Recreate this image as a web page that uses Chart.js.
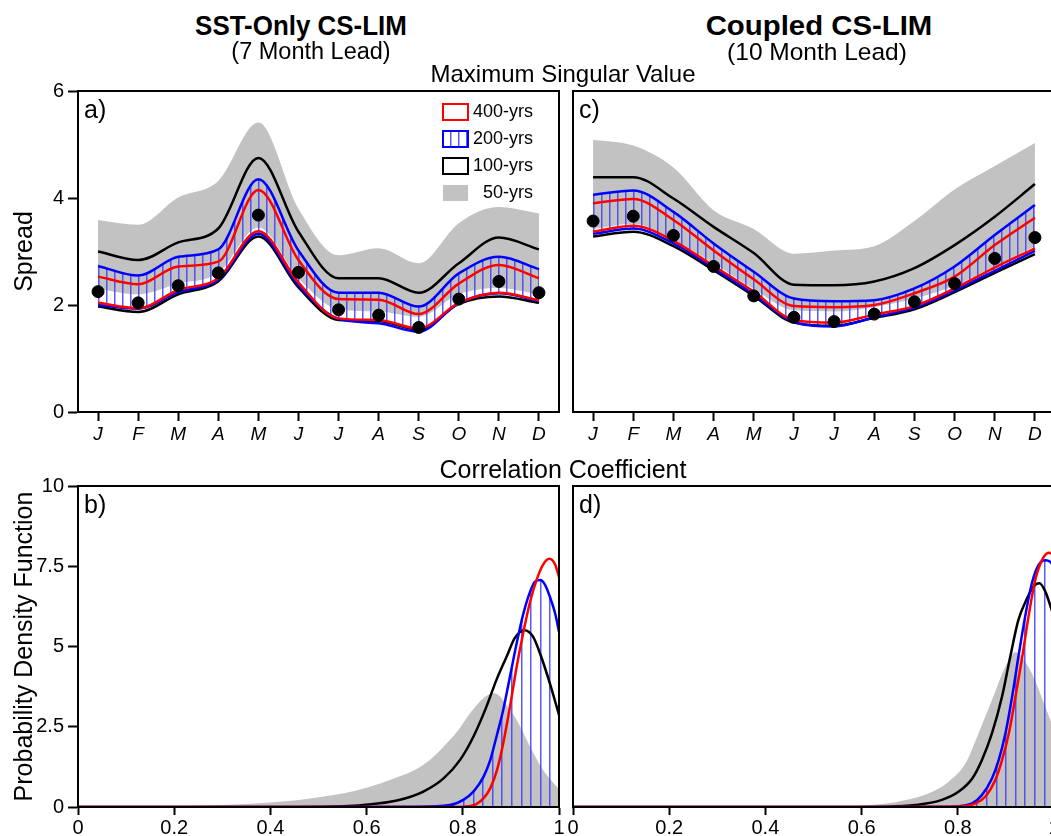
<!DOCTYPE html>
<html><head><meta charset="utf-8">
<script src="https://cdn.jsdelivr.net/npm/chart.js@4.4.1/dist/chart.umd.min.js"></script>
<style>
html,body{margin:0;padding:0;background:#fff;overflow:hidden;}
#fig{position:relative;width:1051px;height:836px;overflow:hidden;font-family:'Liberation Sans',Arial,sans-serif;color:#000;background:#fff;}
canvas{position:absolute;}
.t{position:absolute;width:500px;text-align:center;white-space:nowrap;line-height:1;}
</style></head><body>
<div id="fig">
<canvas id="cA" width="580" height="400" style="left:0px;top:60px"></canvas>
<canvas id="cC" width="560" height="400" style="left:520px;top:60px"></canvas>
<canvas id="cB" width="580" height="400" style="left:0px;top:460px"></canvas>
<canvas id="cD" width="560" height="400" style="left:520px;top:460px"></canvas>
<div class="t" style="left:51px;top:11px;font-size:28.5px;font-weight:bold;transform:scaleX(0.91)">SST-Only CS-LIM</div>
<div class="t" style="left:569px;top:11px;font-size:28.5px;font-weight:bold;transform:scaleX(1.03)">Coupled CS-LIM</div>
<div class="t" style="left:61px;top:40px;font-size:23.5px">(7 Month Lead)</div>
<div class="t" style="left:567px;top:40px;font-size:24.5px">(10 Month Lead)</div>
<div class="t" style="left:313px;top:62px;font-size:24px">Maximum Singular Value</div>
<div class="t" style="left:313px;top:457px;font-size:25px">Correlation Coefficient</div>
</div>
<script>
// ---------- categories ----------
const months = ['J','F','M','A','M','J','J','A','S','O','N','D'];
const legendNames = ['400-yrs','200-yrs','100-yrs','50-yrs'];

// ---------- panel a : SST-Only CS-LIM, spread ----------
const obsA      = [2.25, 2.04, 2.36, 2.60, 3.68, 2.61, 1.91, 1.81, 1.58, 2.11, 2.44, 2.23];
const gry50UpA  = [3.59, 3.50, 4.01, 4.32, 5.41, 3.80, 2.93, 3.06, 2.78, 3.53, 3.83, 3.71];
const gry50LoA  = [2.30, 2.20, 2.40, 2.60, 3.45, 2.50, 1.92, 1.88, 1.78, 2.20, 2.32, 2.20];
const blk100UpA = [3.00, 2.84, 3.17, 3.43, 4.75, 3.37, 2.50, 2.50, 2.23, 2.78, 3.26, 3.04];
const blu200UpA = [2.73, 2.55, 2.90, 3.04, 4.35, 3.02, 2.23, 2.23, 1.97, 2.59, 2.90, 2.67];
const red400UpA = [2.53, 2.39, 2.72, 2.81, 4.15, 2.84, 2.11, 2.10, 1.83, 2.40, 2.75, 2.50];
const red400LoA = [2.04, 1.94, 2.28, 2.50, 3.38, 2.42, 1.75, 1.72, 1.56, 2.04, 2.23, 2.09];
const blu200LoA = [2.00, 1.93, 2.24, 2.47, 3.33, 2.37, 1.74, 1.66, 1.50, 2.03, 2.22, 2.08];
const blk100LoA = [1.97, 1.87, 2.20, 2.44, 3.28, 2.33, 1.72, 1.70, 1.54, 2.02, 2.16, 2.04];

// ---------- panel c : Coupled CS-LIM, spread ----------
const obsC      = [3.57, 3.66, 3.30, 2.72, 2.17, 1.77, 1.69, 1.83, 2.06, 2.40, 2.87, 3.26];
const gry50UpC  = [5.09, 4.98, 4.57, 3.77, 3.42, 2.96, 3.02, 3.10, 3.57, 4.16, 4.60, 5.03];
const gry50LoC  = [3.42, 3.52, 3.22, 2.78, 2.30, 1.90, 1.88, 1.96, 2.12, 2.36, 2.72, 3.10];
const blk100UpC = [4.39, 4.39, 3.99, 3.46, 2.97, 2.38, 2.37, 2.44, 2.69, 3.12, 3.65, 4.26];
const blu200UpC = [4.06, 4.14, 3.74, 3.15, 2.62, 2.12, 2.07, 2.09, 2.31, 2.72, 3.31, 3.87];
const red400UpC = [3.90, 3.98, 3.59, 3.02, 2.48, 1.98, 1.96, 2.00, 2.22, 2.53, 3.12, 3.63];
const red400LoC = [3.37, 3.48, 3.20, 2.73, 2.25, 1.72, 1.67, 1.82, 1.98, 2.31, 2.70, 3.06];
const blu200LoC = [3.33, 3.43, 3.15, 2.69, 2.20, 1.68, 1.60, 1.77, 1.95, 2.27, 2.64, 3.01];
const blk100LoC = [3.28, 3.37, 3.10, 2.65, 2.17, 1.67, 1.61, 1.76, 1.92, 2.24, 2.60, 2.95];

// ---------- panel b : SST-Only CS-LIM, correlation PDF ----------
const red400Bx = [0, 0.5, 0.75, 0.80, 0.815, 0.829, 0.843, 0.857, 0.871, 0.884, 0.898, 0.912, 0.926, 0.940, 0.954, 0.967, 0.980, 0.992, 1.0];
const red400By = [0, 0, 0, 0.01, 0.03, 0.10, 0.27, 0.58, 1.15, 1.98, 3.12, 4.37, 5.45, 6.40, 7.10, 7.55, 7.73, 7.55, 7.17];
const blu200Bx = [0, 0.5, 0.70, 0.773, 0.801, 0.822, 0.843, 0.857, 0.870, 0.884, 0.898, 0.912, 0.926, 0.940, 0.950, 0.961, 0.971, 0.981, 0.992, 1.0];
const blu200By = [0, 0, 0.01, 0.06, 0.22, 0.48, 0.94, 1.46, 2.19, 3.02, 4.06, 5.10, 6.03, 6.71, 7.02, 7.07, 6.92, 6.55, 6.03, 5.46];
const blk100Bx = [0, 0.45, 0.55, 0.593, 0.663, 0.718, 0.760, 0.794, 0.822, 0.849, 0.870, 0.891, 0.908, 0.928, 0.946, 0.963, 0.981, 1.0];
const blk100By = [0, 0, 0.02, 0.06, 0.20, 0.48, 0.89, 1.46, 2.19, 3.12, 3.96, 4.68, 5.26, 5.51, 5.31, 4.68, 3.85, 2.87];
const gry50Bx  = [0, 0.1, 0.2, 0.3, 0.4, 0.45, 0.5, 0.55, 0.6, 0.65, 0.7, 0.73, 0.76, 0.79, 0.815, 0.843, 0.866, 0.898, 0.912, 0.940, 0.967, 1.0];
const gry50By  = [0, 0.005, 0.02, 0.06, 0.14, 0.2, 0.3, 0.42, 0.6, 0.85, 1.15, 1.45, 1.88, 2.38, 2.92, 3.39, 3.54, 3.02, 2.71, 1.88, 1.15, 0.55];

// ---------- panel d : Coupled CS-LIM, correlation PDF ----------
const red400Dx = [0, 0.6, 0.78, 0.82, 0.837, 0.857, 0.878, 0.892, 0.906, 0.920, 0.934, 0.947, 0.961, 0.975, 0.989, 1.0];
const red400Dy = [0, 0, 0.005, 0.04, 0.11, 0.32, 0.84, 1.46, 2.29, 3.44, 4.68, 5.93, 7.07, 7.69, 7.92, 7.85];
const blu200Dx = [0, 0.6, 0.77, 0.81, 0.830, 0.850, 0.871, 0.885, 0.899, 0.913, 0.926, 0.940, 0.954, 0.968, 0.982, 0.992, 1.0];
const blu200Dy = [0, 0, 0.005, 0.04, 0.11, 0.37, 0.89, 1.46, 2.29, 3.44, 4.68, 5.93, 6.97, 7.54, 7.69, 7.64, 7.5];
const blk100Dx = [0, 0.55, 0.65, 0.712, 0.767, 0.802, 0.830, 0.850, 0.871, 0.892, 0.909, 0.926, 0.944, 0.958, 0.970, 0.982, 0.992, 1.0];
const blk100Dy = [0, 0, 0.01, 0.06, 0.22, 0.48, 0.89, 1.46, 2.29, 3.44, 4.68, 5.83, 6.50, 6.88, 6.97, 6.71, 6.29, 5.9];
const gry50Dx  = [0, 0.3, 0.45, 0.54, 0.595, 0.643, 0.692, 0.740, 0.781, 0.816, 0.843, 0.871, 0.899, 0.920, 0.954, 0.982, 1.0];
const gry50Dy  = [0, 0.005, 0.01, 0.02, 0.04, 0.09, 0.22, 0.43, 0.79, 1.36, 2.29, 3.33, 4.37, 4.82, 4.16, 3.12, 2.4];

// ---------- styling ----------
const FONT = "'Liberation Sans', Arial, sans-serif";
const RED = '#ff0000', BLUE = '#0000ff', BLACK = '#000000', GRAY = '#c2c2c2', NONE = 'rgba(0,0,0,0)';
const HATCH = 'rgba(60,60,255,0.85)';
Chart.defaults.font.family = FONT;
Chart.defaults.color = '#000';
Chart.defaults.animation = false;

function makeHatch(ctx, period, positions, dx) {
  const c = document.createElement('canvas');
  c.width = period; c.height = 4;
  const g = c.getContext('2d');
  g.fillStyle = HATCH;
  positions.forEach(p => g.fillRect(p, 0, 1.5, 4));
  const pat = ctx.createPattern(c, 'repeat');
  try { pat.setTransform(new DOMMatrix([1, 0, 0, 1, dx, 0])); } catch (e) {}
  return pat;
}

const framePlugin = {
  id: 'frame',
  afterDraw(chart, args, opts) {
    const {ctx, chartArea: a} = chart;
    ctx.save();
    ctx.strokeStyle = '#000'; ctx.lineWidth = 2;
    ctx.strokeRect(a.left, a.top, a.right - a.left, a.bottom - a.top);
    if (opts.letter) {
      ctx.fillStyle = '#000';
      ctx.font = '25px ' + FONT;
      ctx.textAlign = 'left'; ctx.textBaseline = 'alphabetic';
      ctx.fillText(opts.letter, a.left + 6, a.top + 27);
    }
    ctx.restore();
  }
};

const legendMover = {
  id: 'legendMover',
  afterLayout(chart) {
    const lg = chart.legend;
    if (!lg || !lg.options.display) return;
    const a = chart.chartArea;
    lg.right = a.right - 26;
    lg.left = a.right - 125;
    lg.width = lg.right - lg.left;
    lg.top = a.top + 3;
    lg.bottom = lg.top + 250;
    lg.height = 250;
  }
};

function line(data, color, order, extra) {
  return Object.assign({data, borderColor: color, backgroundColor: color, borderWidth: 2.5,
    pointRadius: 0, fill: false, order, cubicInterpolationMode: 'monotone'}, extra || {});
}
function pts(xs, ys) { return xs.map((x, i) => ({x, y: ys[i]})); }

function yAxis(o, max, step, title) {
  return {
    display: true, min: 0, max: max,
    border: {color: '#000', width: 2},
    grid: {drawOnChartArea: false, drawTicks: o.showY, tickLength: 10, tickWidth: 2, tickColor: '#000'},
    ticks: {display: o.showY, stepSize: step, font: {size: 20}, padding: 4, color: '#000'},
    title: {display: o.showY, text: title, font: {size: 25}, padding: {top: 10, bottom: 0}, color: '#000'},
    afterFit(s) { s.width = o.showY ? 78 : 53; }
  };
}

function topChart(id, d, o) {
  const ctx = document.getElementById(id).getContext('2d');
  const hatch = makeHatch(ctx, 8, [0], o.dx);
  const legendItems = [
    {text: legendNames[0], fillStyle: '#fff', strokeStyle: RED, lineWidth: 2, textAlign: 'right', datasetIndex: 1},
    {text: legendNames[1], fillStyle: hatch, strokeStyle: BLUE, lineWidth: 2, textAlign: 'right', datasetIndex: 3},
    {text: legendNames[2], fillStyle: '#fff', strokeStyle: BLACK, lineWidth: 2, textAlign: 'right', datasetIndex: 5},
    {text: legendNames[3], fillStyle: GRAY, strokeStyle: GRAY, lineWidth: 0, textAlign: 'right', datasetIndex: 7}
  ];
  return new Chart(ctx, {
    type: 'line',
    data: {
      labels: months,
      datasets: [
        {label: 'Observed', data: d.obs, showLine: false, pointRadius: 6, pointHoverRadius: 6,
         pointBackgroundColor: '#000', pointBorderColor: '#000', borderColor: '#000', order: 0},
        line(d.redUp, RED, 1, {label: legendNames[0]}), line(d.redLo, RED, 1),
        line(d.bluUp, BLUE, 2, {label: legendNames[1], fill: 4, backgroundColor: hatch}), line(d.bluLo, BLUE, 2),
        line(d.blkUp, BLACK, 3, {label: legendNames[2]}), line(d.blkLo, BLACK, 3),
        line(d.gryUp, NONE, 5, {label: legendNames[3], fill: 8, backgroundColor: GRAY}), line(d.gryLo, NONE, 5)
      ]
    },
    options: {
      responsive: false, devicePixelRatio: 1, events: [],
      layout: {padding: {left: 0, right: o.padR, top: 31, bottom: 0}},
      plugins: {
        tooltip: {enabled: false},
        filler: {drawTime: 'beforeDatasetsDraw'},
        frame: {letter: o.letter},
        legend: {
          display: o.legend, position: 'chartArea', align: 'start',
          labels: {boxWidth: 25, boxHeight: 16, padding: 9, color: '#000', font: {size: 18},
                   generateLabels: () => legendItems}
        }
      },
      scales: {
        x: {
          type: 'category', offset: true,
          border: {color: '#000', width: 2},
          grid: {offset: false, drawOnChartArea: false, tickLength: 9, tickWidth: 2, tickColor: '#000'},
          ticks: {font: {size: 19, style: 'italic'}, padding: 2, color: '#000', maxRotation: 0, autoSkip: false},
          afterFit(s) { s.height = 48; }
        },
        y: yAxis(o, 6, 2, 'Spread')
      }
    },
    plugins: [framePlugin, legendMover]
  });
}

function bottomChart(id, d, o) {
  const ctx = document.getElementById(id).getContext('2d');
  const hatch = makeHatch(ctx, 48, [0, 10, 19, 29, 38], o.dx);
  return new Chart(ctx, {
    type: 'line',
    data: {
      datasets: [
        line(pts(d.redX, d.redY), RED, 1, {label: legendNames[0]}),
        line(pts(d.bluX, d.bluY), BLUE, 2, {label: legendNames[1], fill: 'origin', backgroundColor: hatch}),
        line(pts(d.blkX, d.blkY), BLACK, 3, {label: legendNames[2]}),
        line(pts(d.gryX, d.gryY), NONE, 5, {label: legendNames[3], fill: 'origin', backgroundColor: GRAY})
      ]
    },
    options: {
      responsive: false, devicePixelRatio: 1, events: [],
      layout: {padding: {left: 0, right: o.padR, top: 26, bottom: 0}},
      plugins: {
        tooltip: {enabled: false},
        legend: {display: false},
        filler: {drawTime: 'beforeDatasetsDraw'},
        frame: {letter: o.letter}
      },
      scales: {
        x: {
          type: 'linear', min: 0, max: 1,
          border: {color: '#000', width: 2},
          grid: {drawOnChartArea: false, tickLength: 8, tickWidth: 2, tickColor: '#000'},
          ticks: {stepSize: 0.2, font: {size: 20}, padding: 1, color: '#000', maxRotation: 0,
                  callback: (v) => String(Math.round(v * 10) / 10)},
          afterFit(s) { s.height = 53; }
        },
        y: yAxis(o, 10, 2.5, 'Probability Density Function')
      }
    },
    plugins: [framePlugin]
  });
}

topChart('cA', {obs: obsA, gryUp: gry50UpA, gryLo: gry50LoA, blkUp: blk100UpA, blkLo: blk100LoA,
  bluUp: blu200UpA, bluLo: blu200LoA, redUp: red400UpA, redLo: red400LoA},
  {padR: 21, showY: true, legend: true, letter: 'a)', dx: 2});
topChart('cC', {obs: obsC, gryUp: gry50UpC, gryLo: gry50LoC, blkUp: blk100UpC, blkLo: blk100LoC,
  bluUp: blu200UpC, bluLo: blu200LoC, redUp: red400UpC, redLo: red400LoC},
  {padR: 25, showY: false, legend: false, letter: 'c)', dx: 1});
bottomChart('cB', {redX: red400Bx, redY: red400By, bluX: blu200Bx, bluY: blu200By,
  blkX: blk100Bx, blkY: blk100By, gryX: gry50Bx, gryY: gry50By},
  {padR: 21, showY: true, letter: 'b)', dx: 31});
bottomChart('cD', {redX: red400Dx, redY: red400Dy, bluX: blu200Dx, bluY: blu200Dy,
  blkX: blk100Dx, blkY: blk100Dy, gryX: gry50Dx, gryY: gry50Dy},
  {padR: 26, showY: false, letter: 'd)', dx: 34});
</script>
</body></html>
